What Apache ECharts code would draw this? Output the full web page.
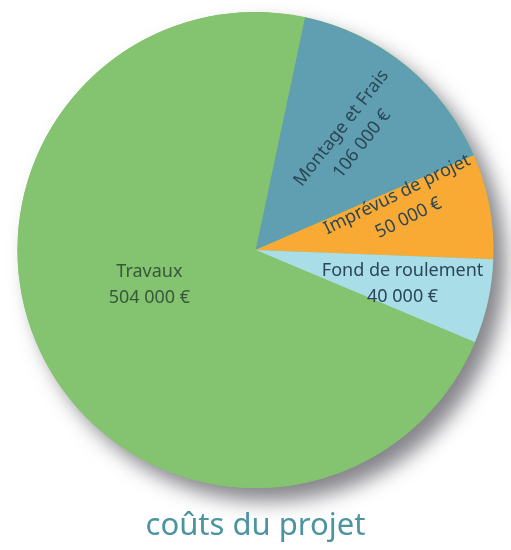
<!DOCTYPE html>
<html>
<head>
<meta charset="utf-8">
<script src="https://cdn.jsdelivr.net/npm/echarts@6/dist/echarts.min.js"></script>
<style>
html,body{margin:0;padding:0;background:#fff;}
#chart{width:511px;height:550px;}
</style>
</head>
<body>
<div id="chart"></div>
<script>
// Data
const categories = ['Montage et Frais', 'Imprévus de projet', 'Fond de roulement', 'Travaux'];
const values = [106000, 50000, 40000, 504000];
const valueLabels = ['106 000 €', '50 000 €', '40 000 €', '504 000 €'];
const titleText = 'coûts du projet';

// Styles
const colors = ['#609fb1', '#f8aa35', '#a9dde8', '#84c36f'];
const labelColors = ['#2b4657', '#2b4657', '#2b4657', '#35593a'];
const labelRotate = [52, 26, 0, 0];
const labelShift = [[27, 3], [34, -7], [28, 7], [2, -22]];

const total = values.reduce((a, b) => a + b, 0);
const center = ['50%', 250];
const radius = 238;

const chart = echarts.init(document.getElementById('chart'), null, {renderer: 'canvas'});
chart.setOption({
  animation: false,
  title: {
    text: titleText,
    left: 'center',
    top: 506,
    textStyle: {fontFamily: 'Noto Sans', fontWeight: 'normal', fontSize: 31, color: '#4b94a0', letterSpacing: 1.2}
  },
  series: [
    {
      type: 'pie',
      silent: true,
      center: center,
      radius: radius,
      z: 1,
      label: {show: false},
      labelLine: {show: false},
      itemStyle: {
        color: '#84c36f',
        shadowColor: 'rgba(50,50,60,0.6)',
        shadowBlur: 20,
        shadowOffsetX: 12,
        shadowOffsetY: 13
      },
      data: [{value: total, name: ''}]
    },
    {
      type: 'pie',
      center: center,
      radius: radius,
      startAngle: 78,
      clockwise: true,
      z: 2,
      label: {
        show: true,
        position: 'inside',
        fontFamily: 'Noto Sans',
        fontSize: 18,
        lineHeight: 26,
        formatter: p => p.name + '\n' + valueLabels[p.dataIndex]
      },
      labelLine: {show: false},
      labelLayout: p => ({dx: labelShift[p.dataIndex][0], dy: labelShift[p.dataIndex][1]}),
      itemStyle: {borderWidth: 0},
      emphasis: {disabled: true},
      data: categories.map((c, i) => ({
        name: c,
        value: values[i],
        itemStyle: {color: colors[i]},
        label: {color: labelColors[i], rotate: labelRotate[i]}
      }))
    }
  ]
});
</script>
</body>
</html>
